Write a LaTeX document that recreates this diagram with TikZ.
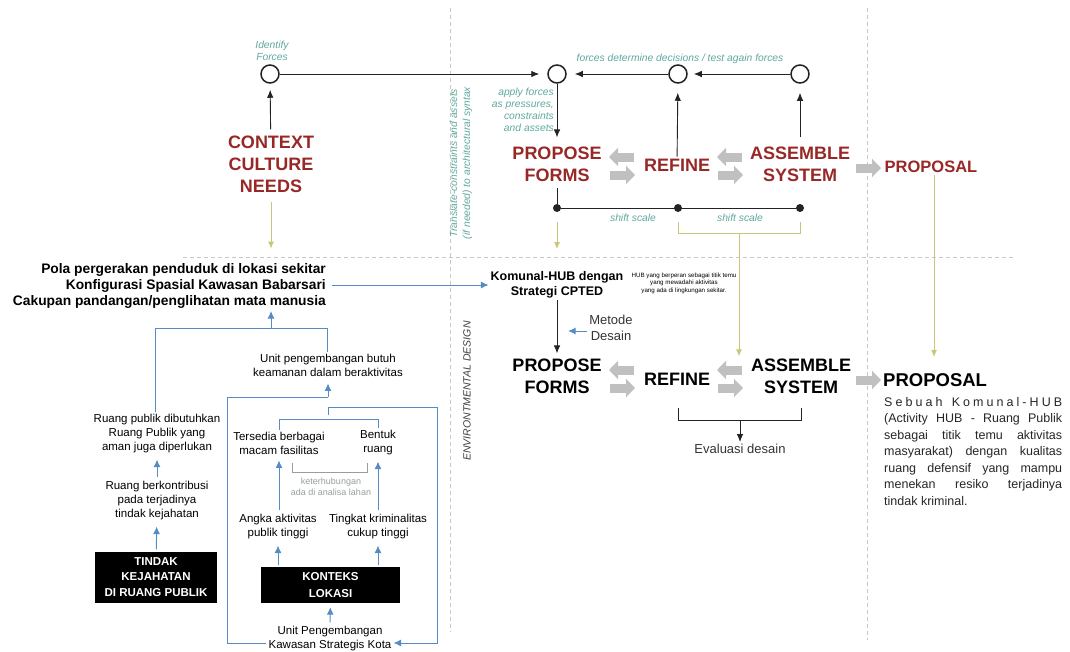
\documentclass[tikz,border=0pt]{standalone}
\usepackage{fontspec}
\setmainfont{Liberation Sans}
\usetikzlibrary{arrows.meta}
\definecolor{ctxred}{RGB}{152,40,38}
\definecolor{tealtxt}{RGB}{95,168,158}
\definecolor{olvln}{RGB}{200,198,120}
\definecolor{lineblue}{RGB}{85,140,195}
\definecolor{fatgray}{RGB}{192,192,192}
\definecolor{dashgray}{RGB}{200,200,200}
\definecolor{softgray}{RGB}{150,158,158}
\definecolor{darkln}{RGB}{35,35,35}
\newcommand{\bigfnt}{\fontsize{18}{22}\selectfont\bfseries}
\newcommand{\tlfnt}{\fontsize{10.3}{12}\selectfont\itshape}
\newcommand{\txtfnt}{\fontsize{11.5}{14}\selectfont}
\newcommand{\midfnt}{\fontsize{13}{16}\selectfont}
\newcommand{\boxfnt}{\fontsize{11.5}{15.5}\selectfont\bfseries}

\begin{document}
\begin{tikzpicture}[x=1pt,y=-1pt,every node/.style={inner sep=2pt}]
\tikzstyle{rd}=[text=ctxred,font=\bigfnt,align=center]
\tikzstyle{bk}=[text=black,font=\bigfnt,align=center]
\tikzstyle{tl}=[text=tealtxt,font=\tlfnt,align=center]
\tikzstyle{tx}=[font=\txtfnt,align=center]
\tikzstyle{cir}=[circle,draw=darkln,line width=1.5pt,minimum size=18pt,inner sep=0pt]
\tikzstyle{dot}=[circle,fill=darkln,minimum size=8pt,inner sep=0pt]
\tikzstyle{ln}=[draw=darkln,line width=0.9pt]
\tikzstyle{arr}=[ln,-{Latex[length=8pt,width=6.5pt]}]
\tikzstyle{bl}=[draw=lineblue,line width=1pt]
\tikzstyle{blarr}=[bl,-{Latex[length=7.5pt,width=7pt]}]
\tikzstyle{olv}=[draw=olvln,line width=1pt]
\tikzstyle{olvarr}=[olv,-{Latex[length=7pt,width=6pt]}]
\tikzstyle{dsh}=[draw=dashgray,line width=0.6pt,dash pattern=on 4pt off 3pt]
\tikzstyle{fat}=[draw=fatgray,line width=9pt,-{Triangle[length=9pt,width=18pt]}]
\tikzstyle{blk}=[fill=black,text=white,font=\boxfnt,align=center]
\useasboundingbox (0,0) rectangle (1070,651);

% guide lines
\draw[dsh] (450,8) -- (450,632);
\draw[dsh] (867,8) -- (867,640);
\draw[dsh] (183,257) -- (1016,257);

% ---- upper loop (forces)
\node[cir] (c1) at (270,74) {};
\node[cir] (c2) at (557,74) {};
\node[cir] (c3) at (678,74) {};
\node[cir] (c4) at (800,74) {};
\node[tl] (idf) at (272,51) {Identify\\Forces};
\node[tl] (fdd) at (680,59) {forces determine decisions / test again forces};
\node[tl,align=right,anchor=east] (apf) at (556,110) {apply forces\\as pressures,\\constraints\\and assets};
\node[tl,font=\fontsize{10.3}{13}\selectfont\itshape,rotate=90] (trn) at (461,163) {Translate-constraints and assets\\(if needed) to architectural syntax};

\node[rd] (ctx) at (271,164) {CONTEXT\\CULTURE\\NEEDS};
\node[rd] (pf1) at (557,164) {PROPOSE\\FORMS};
\node[rd] (rf1) at (677,165) {REFINE};
\node[rd] (as1) at (800,164) {ASSEMBLE\\SYSTEM};
\node[rd,font=\fontsize{16.5}{20}\selectfont\bfseries] (pr1) at (931,167) {PROPOSAL};
\draw[fat] (634,157) -- (609,157);
\draw[fat] (610,175) -- (635,175);
\draw[fat] (742,157) -- (717,157);
\draw[fat] (718,175) -- (743,175);
\draw[fat] (856,168) -- (881,168);

\node[dot] (d1) at (557,208) {};
\node[dot] (d2) at (678,208) {};
\node[dot] (d3) at (800,208) {};
\node[tl] (sh1) at (633,218) {shift scale};
\node[tl] (sh2) at (740,218) {shift scale};

\draw[arr,shorten <=4pt,shorten >=6pt] (ctx) -- (c1);
\draw[arr,shorten >=8pt] (c1) -- (c2);
\draw[arr,shorten >=8pt] (c3) -- (c2);
\draw[arr,shorten >=6pt] (c4) -- (c3);
\draw[arr,shorten >=7pt] (c2) -- (pf1);
\draw[arr,shorten >=9pt] (rf1) -- (c3);
\draw[arr,shorten <=7pt,shorten >=9pt] (as1) -- (c4);
\draw[ln,shorten <=4pt] (pf1) -- (d1);
\draw[ln] (d1) -- (d3);

\draw[olvarr,shorten <=7pt] (ctx.south) -- ++(0,54);
\draw[olvarr] ([yshift=-14pt]d1.center) -- ++(0,27);
\draw[olv] ([yshift=-14pt]d2.center) -- ++(0,11) -| ([yshift=-14pt]d3.center);
\coordinate (bkm) at (739,233);

% ---- lower loop (design)
\node[font=\fontsize{13.8}{16.3}\selectfont\bfseries,align=right,anchor=east] (pola) at (328,286) {Pola pergerakan penduduk di lokasi sekitar\\Konfigurasi Spasial Kawasan Babarsari\\Cakupan pandangan/penglihatan mata manusia};
\node[font=\fontsize{12.5}{14.5}\selectfont\bfseries,align=center] (kom) at (557,285) {Komunal-HUB dengan\\Strategi CPTED};
\node[font=\fontsize{6.2}{7.5}\selectfont,align=center] (hub) at (684,283) {HUB yang berperan sebagai titik temu\\yang mewadahi aktivitas\\yang ada di lingkungan sekitar.};
\node[font=\midfnt,align=center,text=black!80] (met) at (611,328) {Metode\\Desain};
\node[rotate=90,font=\fontsize{10.5}{12}\selectfont\itshape,text=black!75] (envd) at (467,391) {ENVIRONTMENTAL DESIGN};

\node[bk] (pf2) at (557,376) {PROPOSE\\FORMS};
\node[bk] (rf2) at (677,379) {REFINE};
\node[bk] (as2) at (801,376) {ASSEMBLE\\SYSTEM};
\node[bk,font=\fontsize{18.5}{22}\selectfont\bfseries,anchor=west] (pr2) at (881,380) {PROPOSAL};
\draw[fat] (634,370) -- (609,370);
\draw[fat] (610,388) -- (635,388);
\draw[fat] (742,370) -- (717,370);
\draw[fat] (718,388) -- (743,388);
\draw[fat] (856,380) -- (881,380);
\node[font=\midfnt,text=black!80] (ev) at (740,449) {Evaluasi desain};
\node[font=\fontsize{12.5}{16.5}\selectfont,text=black!85,align=left,anchor=north west] (desc) at (882,395) {%
\makebox[178pt][s]{S\hfil e\hfil b\hfil u\hfil a\hfil h\hfil\hfil\hfil K\hfil o\hfil m\hfil u\hfil n\hfil a\hfil l\hfil -\hfil H\hfil U\hfil B}\\
\makebox[178pt][s]{(Activity HUB - Ruang Publik}\\
\makebox[178pt][s]{sebagai titik temu aktivitas}\\
\makebox[178pt][s]{masyarakat) dengan kualitas}\\
\makebox[178pt][s]{ruang defensif yang mampu}\\
\makebox[178pt][s]{menekan resiko terjadinya}\\
tindak kriminal.};

\draw[blarr,shorten <=4pt] (pola.east |- kom.west) -- (kom.west);
\draw[arr,shorten >=3pt] (kom) -- (pf2);
\draw[blarr] ([yshift=-3pt]met.west) -- ++(-19,0);
\draw[olvarr] (bkm) -- (bkm |- as2.north);
\draw[olvarr] (pr1.south -| 934,0) -- (934,357);
\draw[ln] (678,408) -- (678,420) -- (801,420) -- (801,408);
\draw[arr] (740,420) -- (ev);

% ---- left tree
\node[tx] (unit1) at (328,365) {Unit pengembangan butuh\\keamanan dalam beraktivitas};
\node[tx] (rpub) at (157,434) {Ruang publik dibutuhkan\\Ruang Publik yang\\aman juga diperlukan};
\node[tx] (rkon) at (157,501) {Ruang berkontribusi\\pada terjadinya\\tindak kejahatan};
\node[blk,minimum width=122pt,minimum height=51pt] (tdk) at (156,577) {TINDAK\\KEJAHATAN\\DI RUANG PUBLIK};
\node[tx] (tsd) at (279,443) {Tersedia berbagai\\macam fasilitas};
\node[tx] (btk) at (378,443) {Bentuk\\ruang};
\node[font=\fontsize{9}{11}\selectfont,text=softgray,align=center] (ktr) at (331,487) {keterhubungan\\ada di analisa lahan};
\node[tx] (akt) at (278,527) {Angka aktivitas\\publik tinggi};
\node[tx] (tkt) at (378,527) {Tingkat kriminalitas\\cukup tinggi};
\node[blk,font=\fontsize{11.5}{17}\selectfont\bfseries,minimum width=139pt,minimum height=36pt] (kon) at (330.5,585) {KONTEKS\\LOKASI};
\node[tx] (kws) at (330,639) {Unit Pengembangan\\Kawasan Strategis Kota};

\draw[bl] (rpub.north -| 155,0) -- (155,328) -- (327,328) -- (unit1.north -| 327,0);
\draw[blarr] (271,328) -- (271,311);
\draw[blarr,shorten <=2pt,shorten >=4pt] (rkon) -- (rpub);
\draw[blarr,shorten <=2pt,shorten >=4pt] (tdk) -- (rkon);
\draw[bl] ([yshift=-4pt]kws.west) -| (227,397) -- (328,397);
\draw[blarr,shorten >=5pt] (328,397) -- (unit1.south);
\draw[bl] (tsd.north) -- ++(0,-10) -| (btk.north);
\draw[blarr] (328,415) -- (328,407) -- (437,407) -- (437,643) -- ([yshift=-4pt]kws.east);
\draw[draw=softgray,line width=0.9pt] (292,463) -- (292,472) -- (367,472) -- (367,463);
\draw[blarr,shorten <=2pt,shorten >=4pt] (akt.north -| tsd.south) -- (tsd.south);
\draw[blarr,shorten <=2pt,shorten >=4pt] (tkt) -- (btk);
\draw[blarr,shorten <=2pt,shorten >=4pt] (kon.north -| akt.south) -- (akt.south);
\draw[blarr,shorten <=2pt,shorten >=4pt] (kon.north -| tkt.south) -- (tkt.south);
\draw[blarr,shorten <=2pt,shorten >=4pt] (kws) -- (kon);
\end{tikzpicture}
\end{document}
